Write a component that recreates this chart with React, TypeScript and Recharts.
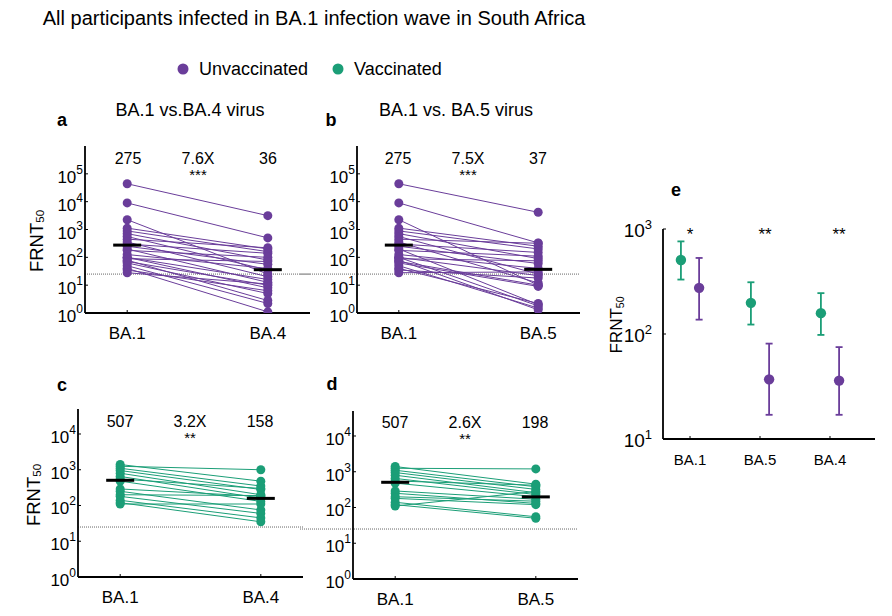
import React from 'react'
import { ComposedChart, Scatter, XAxis, YAxis, ReferenceLine, ErrorBar } from 'recharts'

const PURPLE = '#6a3d9a'
const GREEN = '#1b9e77'
const FONT = '"Liberation Sans", Arial, Helvetica, sans-serif'
const LOD = 25

// FRNT50 per participant, unvaccinated (panels a, b)
const unvacBA1 = [44000, 9000, 2250, 1120, 890, 710, 560, 450, 355, 300, 250, 200, 178, 126, 100, 100, 89, 79, 71, 63, 50, 40, 35, 28]
const unvacBA4 = [3150, 500, 25, 200, 160, 80, 35, 220, 20, 140, 56, 12.6, 100, 40, 8, 16, 71, 2.8, 10, 5, 2.2, 1.1, 6.3, 11]
const unvacBA5 = [4150, 330, 10, 250, 200, 90, 25, 320, 12, 150, 60, 2, 110, 40, 1.8, 22, 75, 1.3, 10, 9, 1.5, 2.2, 18, 30]

// FRNT50 per participant, vaccinated (panels c, d)
const vacBA1 = [1400, 1250, 1100, 950, 800, 650, 550, 480, 290, 250, 200, 180, 140, 120, 110]
const vacBA4 = [480, 1000, 350, 280, 200, 160, 300, 130, 180, 75, 190, 60, 45, 35, 110]
const vacBA5 = [450, 1200, 380, 320, 260, 230, 420, 200, 170, 130, 150, 120, 55, 50, 280]

// geometric means shown above each column
const gmtA = [275, 36]
const gmtB = [275, 37]
const gmtC = [507, 158]
const gmtD = [507, 198]
const foldA = '7.6X'
const foldB = '7.5X'
const foldC = '3.2X'
const foldD = '2.6X'

// panel e
const eCats = ['BA.1', 'BA.5', 'BA.4']
const eVacGMT = [507, 198, 158]
const eVacLo = [330, 123, 98]
const eVacHi = [762, 311, 245]
const eUnvacGMT = [275, 37, 36]
const eUnvacLo = [137, 17, 17]
const eUnvacHi = [530, 81, 75]
const eStars = ['*', '**', '**']

const PowTick = (props: any) => {
  const { x, y, payload, big, small, shift } = props
  const e = Math.round(Math.log10(payload.value))
  return (
    <text x={x} y={y + shift} textAnchor="end" fontFamily={FONT} fill="#000">
      <tspan fontSize={big}>10</tspan>
      <tspan fontSize={small} dy={-shift}>{e}</tspan>
    </text>
  )
}

type PairProps = {
  plot: [number, number, number, number]
  before: number[]
  after: number[]
  color: string
  gmt: number[]
  cats: string[]
  yMax: number
  ticks: number[]
  lodFrom?: number
}

function PairPanel({ plot, before, after, color, gmt, cats, yMax, ticks, lodFrom }: PairProps) {
  const [pl, pt, pr, pb] = plot
  const left = pl - 80
  const top = pt - 10
  const width = pr - left + 4
  const height = pb - top + 32
  const unit = (pr - pl) / 1.6
  const lodX0 = lodFrom != null ? 0.7 + (lodFrom - pl) / unit : 0.7
  const dot = (p: any) => <circle cx={p.cx} cy={p.cy} r={4.5} fill={color} />
  const bar = (p: any) => <rect x={p.cx - 14} y={p.cy - 1.5} width={28} height={3} fill="#000" />
  return (
    <div style={{ position: 'absolute', left, top, width, height }}>
      <ComposedChart width={width} height={height} margin={{ top: 10, right: 4, bottom: 0, left: 20 }}>
        <XAxis
          type="number"
          dataKey="x"
          domain={[0.7, 2.3]}
          ticks={[1, 2]}
          allowDataOverflow
          height={32}
          tickFormatter={(v: number) => cats[v - 1]}
          axisLine={{ stroke: '#000', strokeWidth: 1.8 }}
          tickLine={{ stroke: '#000' }}
          tickSize={-3}
          tickMargin={17}
          tick={{ fill: '#000', fontSize: 17, fontFamily: FONT }}
        />
        <YAxis
          type="number"
          dataKey="y"
          scale="log"
          domain={[1, yMax]}
          ticks={ticks}
          allowDataOverflow
          width={60}
          axisLine={{ stroke: '#000', strokeWidth: 1.8 }}
          tickLine={{ stroke: '#000' }}
          tickSize={-3}
          tickMargin={5}
          tick={(p: any) => <PowTick {...p} big={17} small={12} shift={9} />}
        />
        <ReferenceLine
          segment={[{ x: lodX0, y: LOD }, { x: 2.3, y: LOD }]}
          ifOverflow="visible"
          stroke="#666"
          strokeDasharray="1 1"
          strokeWidth={1}
        />
        {before.map((b, i) => (
          <Scatter
            key={i}
            data={[{ x: 1, y: b }, { x: 2, y: after[i] }]}
            line={{ stroke: color, strokeWidth: 1 }}
            shape={dot}
            isAnimationActive={false}
          />
        ))}
        <Scatter data={gmt.map((g, i) => ({ x: i + 1, y: g }))} shape={bar} isAnimationActive={false} />
      </ComposedChart>
    </div>
  )
}

function PanelE() {
  const pl = 663, pt = 229, pr = 875, pb = 439
  const left = pl - 80
  const top = pt - 20
  const width = pr - left + 4
  const height = pb - top + 32
  const off = 0.13
  const vac = eVacGMT.map((g, i) => ({ x: i + 1 - off, y: g, err: [g - eVacLo[i], eVacHi[i] - g] }))
  const unvac = eUnvacGMT.map((g, i) => ({ x: i + 1 + off, y: g, err: [g - eUnvacLo[i], eUnvacHi[i] - g] }))
  return (
    <div style={{ position: 'absolute', left, top, width, height }}>
      <ComposedChart width={width} height={height} margin={{ top: 20, right: 4, bottom: 0, left: 20 }}>
        <XAxis
          type="number"
          dataKey="x"
          domain={[0.614, 3.643]}
          ticks={[1, 2, 3]}
          allowDataOverflow
          height={32}
          tickFormatter={(v: number) => eCats[v - 1]}
          axisLine={{ stroke: '#000', strokeWidth: 1.8 }}
          tickLine={{ stroke: '#000' }}
          tickSize={-3}
          tickMargin={18}
          tick={{ fill: '#000', fontSize: 15, fontFamily: FONT }}
        />
        <YAxis
          type="number"
          dataKey="y"
          scale="log"
          domain={[10, 1000]}
          ticks={[10, 100, 1000]}
          allowDataOverflow
          width={60}
          axisLine={{ stroke: '#000', strokeWidth: 1.8 }}
          tickLine={{ stroke: '#000' }}
          tickSize={-3}
          tickMargin={14}
          tick={(p: any) => <PowTick {...p} big={19} small={13} shift={8} />}
        />
        <Scatter data={vac} shape={(p: any) => <circle cx={p.cx} cy={p.cy} r={5.2} fill={GREEN} />} isAnimationActive={false}>
          <ErrorBar dataKey="err" direction="y" width={3.5} stroke={GREEN} strokeWidth={1.8} />
        </Scatter>
        <Scatter data={unvac} shape={(p: any) => <circle cx={p.cx} cy={p.cy} r={5.2} fill={PURPLE} />} isAnimationActive={false}>
          <ErrorBar dataKey="err" direction="y" width={3.5} stroke={PURPLE} strokeWidth={1.8} />
        </Scatter>
      </ComposedChart>
    </div>
  )
}

function Frnt({ x, y, size }: { x: number; y: number; size: number }) {
  return (
    <text transform={`translate(${x},${y}) rotate(-90)`} textAnchor="middle" dominantBaseline="central" fontSize={size}>
      FRNT<tspan fontSize={size * 0.62} dy={4}>50</tspan>
    </text>
  )
}

function Annot({ xs, y, gmt, fold, stars }: { xs: number[]; y: number; gmt: number[]; fold: string; stars: string }) {
  const mid = (xs[0] + xs[1]) / 2
  return (
    <g fontSize={16} textAnchor="middle">
      <text x={xs[0]} y={y}>{gmt[0]}</text>
      <text x={mid} y={y}>{fold}</text>
      <text x={mid} y={y + 16} fontSize={15}>{stars}</text>
      <text x={xs[1]} y={y}>{gmt[1]}</text>
    </g>
  )
}

export default function App() {
  return (
    <div style={{ position: 'absolute', left: 0, top: 0, width: 892, height: 616, background: '#fff', fontFamily: FONT }}>
      <PairPanel plot={[85, 146, 310, 313]} before={unvacBA1} after={unvacBA4} color={PURPLE} gmt={gmtA}
        cats={['BA.1', 'BA.4']} yMax={1e6} ticks={[1, 10, 100, 1e3, 1e4, 1e5]} />
      <PairPanel plot={[357, 146, 580, 313]} before={unvacBA1} after={unvacBA5} color={PURPLE} gmt={gmtB}
        cats={['BA.1', 'BA.5']} yMax={1e6} ticks={[1, 10, 100, 1e3, 1e4, 1e5]} lodFrom={300} />
      <PairPanel plot={[78, 409, 303, 577]} before={vacBA1} after={vacBA4} color={GREEN} gmt={gmtC}
        cats={['BA.1', 'BA.4']} yMax={50000} ticks={[1, 10, 100, 1e3, 1e4]} />
      <PairPanel plot={[353, 411, 578, 579]} before={vacBA1} after={vacBA5} color={GREEN} gmt={gmtD}
        cats={['BA.1', 'BA.5']} yMax={50000} ticks={[1, 10, 100, 1e3, 1e4]} lodFrom={300} />
      <PanelE />
      <svg width={892} height={616} style={{ position: 'absolute', left: 0, top: 0, pointerEvents: 'none' }}
        fontFamily={FONT} fill="#000">
        <text x={314} y={25} textAnchor="middle" fontSize={20}>
          All participants infected in BA.1 infection wave in South Africa
        </text>
        <circle cx={183} cy={69} r={5.5} fill={PURPLE} />
        <text x={199} y={75} fontSize={18}>Unvaccinated</text>
        <circle cx={338} cy={69} r={5.5} fill={GREEN} />
        <text x={354} y={75} fontSize={18}>Vaccinated</text>

        <g fontSize={18} fontWeight="bold" textAnchor="middle">
          <text x={62} y={126}>a</text>
          <text x={331} y={126}>b</text>
          <text x={62} y={391}>c</text>
          <text x={332} y={390}>d</text>
          <text x={676} y={196}>e</text>
        </g>
        <g fontSize={18} textAnchor="middle">
          <text x={190} y={116}>BA.1 vs.BA.4 virus</text>
          <text x={456} y={116}>BA.1 vs. BA.5 virus</text>
        </g>

        <Annot xs={[128, 268]} y={164} gmt={gmtA} fold={foldA} stars="***" />
        <Annot xs={[398, 538]} y={164} gmt={gmtB} fold={foldB} stars="***" />
        <Annot xs={[120, 260]} y={427} gmt={gmtC} fold={foldC} stars="**" />
        <Annot xs={[395, 535]} y={428} gmt={gmtD} fold={foldD} stars="**" />

        <g fontSize={17} textAnchor="middle">
          {eStars.map((s, i) => (
            <text key={i} x={[690, 765, 839][i]} y={240}>{s}</text>
          ))}
        </g>

        <Frnt x={36} y={241} size={18.5} />
        <Frnt x={33} y={495} size={18.5} />
        <Frnt x={616} y={325} size={17} />
      </svg>
    </div>
  )
}
